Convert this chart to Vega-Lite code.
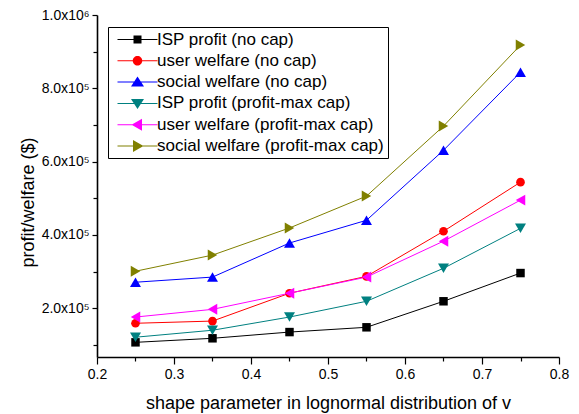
{
  "$schema": "https://vega.github.io/schema/vega-lite/v6.json",
  "width": 462,
  "height": 342,
  "autosize": "none",
  "padding": {"left": 97, "top": 15, "right": 20, "bottom": 57},
  "config": {
    "font": "Liberation Sans",
    "view": {"stroke": null},
    "axis": {
      "grid": false,
      "domainColor": "black",
      "domainWidth": 1.6,
      "tickColor": "black",
      "tickWidth": 1.2,
      "labelColor": "black",
      "labelFont": "Liberation Sans",
      "labelFontSize": 14,
      "titleColor": "black",
      "titleFont": "Liberation Sans",
      "titleFontSize": 18,
      "titleFontWeight": "normal",
      "labelOverlap": false,
      "labelFlush": false
    },
    "legend": {
      "orient": "none",
      "legendX": 11,
      "legendY": 12,
      "symbolSize": 100,
      "symbolOpacity": 1,
      "symbolStrokeWidth": 0,
      "symbolOffset": 2,
      "labelOffset": 26,
      "labelFont": "Liberation Sans",
      "labelFontSize": 17,
      "labelColor": "black",
      "labelLimit": 400,
      "rowPadding": 3.3,
      "padding": 4,
      "strokeColor": "black",
      "fillColor": "white"
    }
  },
  "data": {
    "values": [
      {"v": 0.25, "series": "ISP profit (no cap)", "value": 107000},
      {"v": 0.35, "series": "ISP profit (no cap)", "value": 118000},
      {"v": 0.45, "series": "ISP profit (no cap)", "value": 135000},
      {"v": 0.55, "series": "ISP profit (no cap)", "value": 148000},
      {"v": 0.65, "series": "ISP profit (no cap)", "value": 219000},
      {"v": 0.75, "series": "ISP profit (no cap)", "value": 296000},
      {"v": 0.25, "series": "user welfare (no cap)", "value": 159000},
      {"v": 0.35, "series": "user welfare (no cap)", "value": 165000},
      {"v": 0.45, "series": "user welfare (no cap)", "value": 241000},
      {"v": 0.55, "series": "user welfare (no cap)", "value": 287000},
      {"v": 0.65, "series": "user welfare (no cap)", "value": 410000},
      {"v": 0.75, "series": "user welfare (no cap)", "value": 544000},
      {"v": 0.25, "series": "social welfare (no cap)", "value": 271000},
      {"v": 0.35, "series": "social welfare (no cap)", "value": 285000},
      {"v": 0.45, "series": "social welfare (no cap)", "value": 378000},
      {"v": 0.55, "series": "social welfare (no cap)", "value": 440000},
      {"v": 0.65, "series": "social welfare (no cap)", "value": 631000},
      {"v": 0.75, "series": "social welfare (no cap)", "value": 844000},
      {"v": 0.25, "series": "ISP profit (profit-max cap)", "value": 121000},
      {"v": 0.35, "series": "ISP profit (profit-max cap)", "value": 140000},
      {"v": 0.45, "series": "ISP profit (profit-max cap)", "value": 176000},
      {"v": 0.55, "series": "ISP profit (profit-max cap)", "value": 219000},
      {"v": 0.65, "series": "ISP profit (profit-max cap)", "value": 309000},
      {"v": 0.75, "series": "ISP profit (profit-max cap)", "value": 418000},
      {"v": 0.25, "series": "user welfare (profit-max cap)", "value": 176000},
      {"v": 0.35, "series": "user welfare (profit-max cap)", "value": 197000},
      {"v": 0.45, "series": "user welfare (profit-max cap)", "value": 241000},
      {"v": 0.55, "series": "user welfare (profit-max cap)", "value": 285000},
      {"v": 0.65, "series": "user welfare (profit-max cap)", "value": 383000},
      {"v": 0.75, "series": "user welfare (profit-max cap)", "value": 495000},
      {"v": 0.25, "series": "social welfare (profit-max cap)", "value": 301000},
      {"v": 0.35, "series": "social welfare (profit-max cap)", "value": 345000},
      {"v": 0.45, "series": "social welfare (profit-max cap)", "value": 419000},
      {"v": 0.55, "series": "social welfare (profit-max cap)", "value": 506000},
      {"v": 0.65, "series": "social welfare (profit-max cap)", "value": 697000},
      {"v": 0.75, "series": "social welfare (profit-max cap)", "value": 918000}
    ]
  },
  "encoding": {
    "x": {
      "field": "v",
      "type": "quantitative",
      "scale": {"domain": [0.2, 0.8], "nice": false, "zero": false},
      "axis": {
        "title": "shape parameter in lognormal distribution of v",
        "values": [0.2, 0.25, 0.3, 0.35, 0.4, 0.45, 0.5, 0.55, 0.6, 0.65, 0.7, 0.75, 0.8],
        "labelExpr": "abs(datum.value*10 - round(datum.value*10)) < 0.001 ? format(datum.value, '.1f') : ''",
        "tickSize": {"condition": {"test": "abs(datum.value*10 - round(datum.value*10)) < 0.001", "value": 7}, "value": 4},
        "labelPadding": 3,
        "titleY": 51,
        "titleBaseline": "alphabetic"
      }
    },
    "y": {
      "field": "value",
      "type": "quantitative",
      "scale": {"domain": [67000, 1000000], "nice": false, "zero": false},
      "axis": {
        "title": "profit/welfare ($)",
        "values": [100000, 200000, 300000, 400000, 500000, 600000, 700000, 800000, 900000, 1000000],
        "labelExpr": "datum.value == 1000000 ? '1.0x10⁶' : (datum.value % 200000 == 0 ? format(datum.value/100000, '.1f') + 'x10⁵' : '')",
        "tickSize": {"condition": {"test": "datum.value % 200000 == 0", "value": 5}, "value": 4},
        "labelPadding": 3,
        "titleX": -64,
        "titleY": 187,
        "titleBaseline": "alphabetic"
      }
    },
    "color": {
      "field": "series",
      "type": "nominal",
      "scale": {
        "domain": ["ISP profit (no cap)", "user welfare (no cap)", "social welfare (no cap)", "ISP profit (profit-max cap)", "user welfare (profit-max cap)", "social welfare (profit-max cap)"],
        "range": ["#000000", "#ff0000", "#0000ff", "#008080", "#ff00ff", "#808000"]
      },
      "legend": {"title": null}
    }
  },
  "layer": [
    {"mark": {"type": "line", "strokeWidth": 1}},
    {
      "transform": [{"filter": "datum.series == 'ISP profit (no cap)'"}],
      "mark": {"type": "point", "filled": true, "opacity": 1, "size": 72, "shape": "square"}
    },
    {
      "transform": [{"filter": "datum.series == 'user welfare (no cap)'"}],
      "mark": {"type": "point", "filled": true, "opacity": 1, "size": 75, "shape": "circle"}
    },
    {
      "transform": [{"filter": "datum.series == 'social welfare (no cap)'"}],
      "mark": {"type": "point", "filled": true, "opacity": 1, "size": 120, "shape": "triangle-up"}
    },
    {
      "transform": [{"filter": "datum.series == 'ISP profit (profit-max cap)'"}],
      "mark": {"type": "point", "filled": true, "opacity": 1, "size": 120, "shape": "triangle-down"}
    },
    {
      "transform": [{"filter": "datum.series == 'user welfare (profit-max cap)'"}],
      "mark": {"type": "point", "filled": true, "opacity": 1, "size": 120, "shape": "triangle-left"}
    },
    {
      "transform": [{"filter": "datum.series == 'social welfare (profit-max cap)'"}],
      "mark": {"type": "point", "filled": true, "opacity": 1, "size": 120, "shape": "triangle-right"}
    },
    {
      "transform": [{"filter": "false"}],
      "mark": {"type": "point", "filled": true, "opacity": 1},
      "encoding": {
        "shape": {
          "field": "series",
          "type": "nominal",
          "scale": {
            "domain": ["ISP profit (no cap)", "user welfare (no cap)", "social welfare (no cap)", "ISP profit (profit-max cap)", "user welfare (profit-max cap)", "social welfare (profit-max cap)"],
            "range": [
              "M-1,-0.1H7V0.1H-1ZM2.2,-0.8H3.8V0.8H2.2Z",
              "M-1,-0.1H7V0.1H-1ZM2.05,0A0.95,0.95,0,1,1,3.95,0A0.95,0.95,0,1,1,2.05,0Z",
              "M-1,-0.1H7V0.1H-1ZM3,-1.1L4.3,0.9L1.7,0.9Z",
              "M-1,-0.1H7V0.1H-1ZM3,1.1L1.7,-0.9L4.3,-0.9Z",
              "M-1,-0.1H7V0.1H-1ZM1.8,0L3.9,-1.2L3.9,1.2Z",
              "M-1,-0.1H7V0.1H-1ZM4.2,0L2.1,1.2L2.1,-1.2Z"
            ]
          },
          "legend": {"title": null}
        }
      }
    }
  ]
}
